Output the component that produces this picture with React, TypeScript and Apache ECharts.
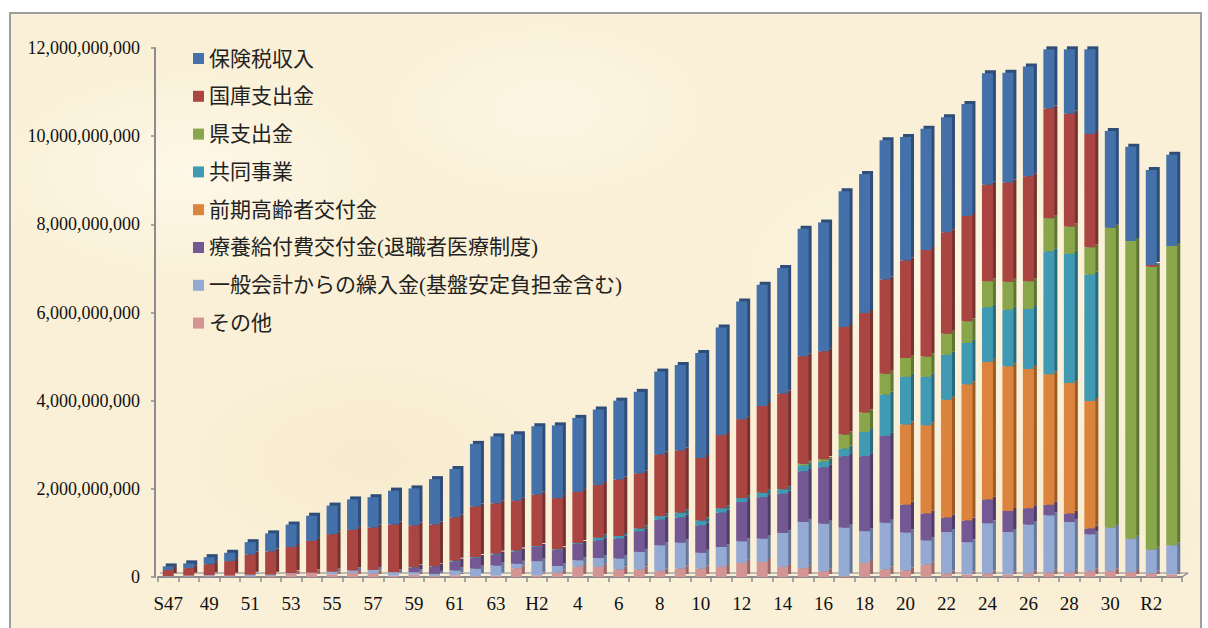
import React, { useEffect, useRef } from "react";
import * as echarts from "echarts";

// Fiscal years (Showa 47 – Reiwa 3)
const categories = [
  "S47", "S48", "S49", "S50", "S51", "S52", "S53", "S54", "S55", "S56", "S57", "S58", "S59", "S60", "S61", "S62", "S63",
  "H1", "H2", "H3", "H4", "H5", "H6", "H7", "H8", "H9", "H10", "H11", "H12", "H13", "H14", "H15", "H16", "H17", "H18", "H19",
  "H20", "H21", "H22", "H23", "H24", "H25", "H26", "H27", "H28", "H29", "H30", "R1", "R2", "R3",
];
const xTickLabels = [
  "S47", "48", "49", "50", "51", "52", "53", "54", "55", "56", "57", "58", "59", "60", "61", "62", "63",
  "H1", "H2", "3", "4", "5", "6", "7", "8", "9", "10", "11", "12", "13", "14", "15", "16", "17", "18", "19",
  "20", "21", "22", "23", "24", "25", "26", "27", "28", "29", "30", "R1", "R2", "R3",
];
const yTicks = [0, 2000000000, 4000000000, 6000000000, 8000000000, 10000000000, 12000000000];

// values in millions of yen
const sonota = [10, 10, 10, 10, 10, 20, 80, 90, 60, 90, 80, 30, 50, 20, 40, 20, 30,
  200, 40, 100, 230, 230, 170, 170, 130, 190, 190, 230, 320, 340, 230, 200, 130, 20, 320, 170,
  150, 280, 80, 60, 80, 60, 80, 100, 100, 130, 130, 110, 80, 60];
const ippan = [10, 20, 30, 20, 40, 30, 10, 10, 60, 60, 80, 80, 60, 50, 110, 170, 230,
  100, 320, 150, 150, 200, 250, 400, 590, 590, 360, 450, 490, 530, 770, 1050, 1080, 1100, 720, 1060,
  860, 550, 940, 730, 1140, 960, 1110, 1300, 1150, 840, 990, 760, 540, 660];
const ryoyo = [0, 0, 0, 0, 0, 0, 0, 0, 0, 0, 0, 0, 100, 160, 200, 240, 250,
  280, 320, 360, 370, 400, 450, 470, 580, 570, 620, 780, 890, 940, 890, 1150, 1280, 1620, 1700, 1970,
  630, 610, 330, 490, 540, 480, 370, 240, 190, 130, 0, 0, 0, 0];
const zenki = [0, 0, 0, 0, 0, 0, 0, 0, 0, 0, 0, 0, 0, 0, 0, 0, 0,
  0, 0, 0, 0, 0, 0, 0, 0, 0, 0, 0, 0, 0, 0, 0, 0, 0, 0, 0,
  1820, 2000, 2670, 3090, 3120, 3280, 3160, 2960, 2960, 2890, 0, 0, 0, 0];
const kyodo = [0, 0, 0, 0, 0, 0, 0, 0, 0, 0, 0, 0, 10, 10, 20, 20, 20,
  20, 20, 20, 20, 60, 60, 60, 80, 110, 110, 100, 90, 100, 100, 130, 130, 170, 550, 940,
  1080, 1100, 1020, 940, 1240, 1280, 1360, 2790, 2930, 2870, 0, 0, 0, 0];
const ken = [0, 0, 0, 0, 0, 0, 0, 0, 0, 0, 0, 0, 0, 0, 0, 0, 0,
  0, 0, 0, 0, 0, 0, 0, 0, 0, 0, 0, 0, 0, 0, 40, 50, 320, 440, 470,
  430, 460, 480, 490, 590, 640, 630, 750, 620, 620, 6800, 6750, 6420, 6790];
const kokko = [140, 170, 250, 330, 460, 530, 590, 720, 850, 920, 960, 1080, 950, 950, 980, 1150, 1140,
  1130, 1170, 1160, 1160, 1200, 1280, 1250, 1400, 1410, 1420, 1660, 1790, 1970, 2170, 2440, 2450, 2440, 2260, 2140,
  2210, 2420, 2300, 2390, 2190, 2250, 2380, 2490, 2560, 2570, 0, 0, 40, 0];
const hoken = [80, 110, 160, 190, 280, 410, 510, 570, 650, 690, 690, 770, 840, 1030, 1100, 1420, 1520,
  1510, 1550, 1650, 1680, 1710, 1790, 1850, 1880, 1940, 2380, 2440, 2670, 2750, 2850, 2890, 2920, 3080, 3150, 3160,
  2800, 2750, 2610, 2540, 2530, 2490, 2490, 1340, 1460, 1920, 2200, 2140, 2150, 2070];

// bottom → top stacking order
const seriesDefs = [
  { name: "その他", data: sonota, color: "#D39594", side: "#9A6766" },
  { name: "一般会計からの繰入金(基盤安定負担金含む)", data: ippan, color: "#94AAD2", side: "#66789A" },
  { name: "療養給付費交付金(退職者医療制度)", data: ryoyo, color: "#735893", side: "#4E3C66" },
  { name: "前期高齢者交付金", data: zenki, color: "#DC843C", side: "#9C5B28" },
  { name: "共同事業", data: kyodo, color: "#419AB3", side: "#2B6B7D" },
  { name: "県支出金", data: ken, color: "#8AA64C", side: "#5F7533" },
  { name: "国庫支出金", data: kokko, color: "#AA4543", side: "#74302E" },
  { name: "保険税収入", data: hoken, color: "#4571AA", side: "#2E4E78" },
];

const serif = "'Liberation Serif', 'DejaVu Serif', 'Noto Sans CJK JP', serif";

export default function App() {
  const ref = useRef<HTMLDivElement>(null);
  useEffect(() => {
    if (!ref.current) return;
    const chart = echarts.init(ref.current, undefined, { renderer: "svg" });
    chart.setOption({
      animation: false,
      backgroundColor: "transparent",
      grid: { left: 158, right: 26, top: 48, bottom: 51, containLabel: false },
      legend: {
        orient: "vertical",
        left: 188,
        top: 43,
        itemWidth: 11,
        itemHeight: 11,
        itemGap: 16.8,
        icon: "rect",
        selectedMode: false,
        data: seriesDefs.map((s) => s.name).reverse(),
        textStyle: { fontSize: 21, color: "#222", fontFamily: serif },
      },
      xAxis: {
        type: "category",
        data: categories,
        boundaryGap: true,
        axisLine: { show: true, lineStyle: { color: "#8c8c8c", width: 2 } },
        axisTick: { show: true, interval: 0, length: 5, lineStyle: { color: "#8c8c8c", width: 1.5 } },
        axisLabel: {
          interval: 1,
          margin: 17,
          fontSize: 19,
          color: "#111",
          fontFamily: serif,
          formatter: (_v: string, i: number) => xTickLabels[i],
        },
      },
      yAxis: {
        type: "value",
        min: yTicks[0],
        max: yTicks[yTicks.length - 1],
        interval: yTicks[1] - yTicks[0],
        offset: 3,
        axisLine: { show: true, lineStyle: { color: "#8c8c8c", width: 2 } },
        axisTick: { show: true, length: 4, lineStyle: { color: "#8c8c8c", width: 1.5 } },
        splitLine: { show: false },
        axisLabel: {
          margin: 15,
          fontSize: 18,
          color: "#111",
          fontFamily: serif,
          formatter: (v: number) => v.toLocaleString("en-US"),
        },
      },
      graphic: [
        {
          type: "line",
          z: 0,
          shape: { x1: 160, y1: 573, x2: 1188, y2: 573 },
          style: { stroke: "#a8a8a8", lineWidth: 1.5 },
        },
        {
          type: "line",
          z: 0,
          shape: { x1: 1182, y1: 577, x2: 1188, y2: 573 },
          style: { stroke: "#8c8c8c", lineWidth: 1.5 },
        },
      ],
      series: seriesDefs.map((s) => ({
        name: s.name,
        type: "bar",
        stack: "total",
        barWidth: 11,
        data: s.data.map((v) => v * 1000000),
        itemStyle: {
          color: s.color,
          shadowColor: s.side,
          shadowBlur: 0,
          shadowOffsetX: 3,
          shadowOffsetY: -3,
        },
        emphasis: { disabled: true },
      })),
    });
    return () => chart.dispose();
  }, []);

  const parchment =
    "radial-gradient(ellipse 300px 160px at 15% 25%, rgba(255,251,238,0.7), transparent 70%)," +
    "radial-gradient(ellipse 260px 140px at 45% 15%, rgba(255,250,236,0.6), transparent 70%)," +
    "radial-gradient(ellipse 320px 180px at 78% 40%, rgba(255,250,235,0.55), transparent 70%)," +
    "radial-gradient(ellipse 280px 150px at 30% 70%, rgba(244,230,198,0.5), transparent 70%)," +
    "radial-gradient(ellipse 300px 160px at 85% 80%, rgba(244,231,200,0.5), transparent 70%)," +
    "#FAF0D7";

  return (
    <div style={{ position: "fixed", left: 0, top: 0, width: 1208, height: 628, background: "#fff", overflow: "hidden" }}>
      <div
        style={{
          position: "absolute",
          left: 9,
          top: 12,
          width: 1193,
          height: 640,
          boxSizing: "border-box",
          border: "2px solid #9e9e9e",
          background: parchment,
        }}
      />
      <div ref={ref} style={{ position: "absolute", left: 0, top: 0, width: 1208, height: 628 }} />
    </div>
  );
}
